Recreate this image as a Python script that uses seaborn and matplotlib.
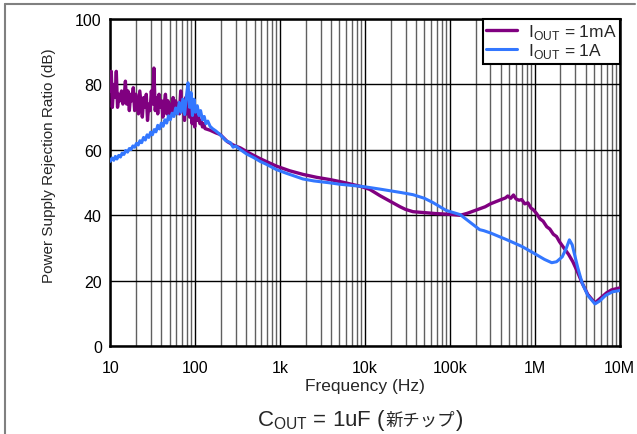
import numpy as np
import pandas as pd
import matplotlib
matplotlib.use("Agg")
import matplotlib.pyplot as plt
import seaborn as sns
from matplotlib.lines import Line2D
from matplotlib.ticker import FixedLocator, NullFormatter

# ----------------------
# Data
# ----------------------
freq_1ma = [10, 10.3, 10.6, 11, 11.4, 11.8, 12.2, 12.7, 13.1, 13.6, 14.1, 14.6,
            15.1, 15.6, 16.2, 16.8, 17.4, 18.0, 18.7, 19.4, 20.1, 20.8, 21.5,
            22.3, 23.1, 23.9, 24.8, 25.7, 26.6, 27.5, 28.5, 29.5, 30.5, 31.6,
            32.7, 33.9, 35.1, 36.3, 37.6, 38.9, 40.3, 41.7, 43.2, 44.7, 46.3,
            47.9, 49.6, 51.3, 53.1, 55.0, 56.9, 58.9, 61.0, 63.1, 65.3, 67.6,
            70.0, 72.4, 75.0, 77.6, 80.3, 83.1, 86.0, 89.1, 92.2, 95.4, 98.8,
            102, 106, 110, 114, 118, 122, 126, 131, 150, 175, 197, 240, 280,
            340, 450, 582, 750, 912, 1300, 1860, 2700, 3900, 5500, 7200, 9000,
            11400, 15000, 20000, 25900, 30000, 36700, 50000, 70000, 100000,
            132000, 160000, 190000, 224000, 260000, 300000, 350000, 400000,
            450000, 480000, 520000, 560000, 600000, 650000, 700000, 760000,
            830000, 900000, 960000, 1.05e6, 1.15e6, 1.25e6, 1.38e6, 1.5e6,
            1.65e6, 1.8e6, 1.95e6, 2.2e6, 2.5e6, 2.8e6, 3.2e6, 3.6e6, 4.2e6,
            5.1e6, 6.0e6, 7.0e6, 8.0e6, 9.0e6, 10e6]
psrr_1ma = [78, 84, 73, 80, 76, 84, 73, 77, 75, 78, 74, 76,
            81, 74, 78, 72, 77, 75, 79, 72, 77, 74, 71,
            78, 74, 70, 76, 73, 77, 69, 74, 72, 78, 74,
            85, 72, 76, 71, 77, 73, 75, 70, 74, 77, 71,
            75, 70, 74, 72, 76, 71, 75, 72, 74, 71, 78,
            72, 75, 69, 76, 71, 77, 70, 73, 68, 72, 67,
            71, 69, 70, 68, 69, 67, 68, 66.5, 66, 65.2, 64.7, 62.5, 61.5,
            60.6, 58.8, 57.3, 56, 55, 53.6, 52.5, 51.6, 50.9, 50.1, 49.4, 48.8,
            47.9, 46, 44.2, 42.6, 41.8, 41.1, 40.8, 40.5, 40.3,
            40, 40.6, 41.3, 42, 42.6, 43.5, 44.2, 44.8,
            45.3, 45.9, 45.2, 46.2, 45, 44.6, 44.8, 43.5,
            43.8, 42.2, 41.7, 40.5, 38.9, 38.2, 36.5, 35.8,
            34.2, 33.5, 31.9, 30, 28, 25.8, 22.5, 19.3, 15.8,
            13.2, 14.8, 16.3, 17.2, 17.5, 17.8]

freq_1a = [10, 10.5, 11, 11.5, 12, 12.6, 13.2, 13.8, 14.5, 15.2, 16, 16.8,
           17.6, 18.5, 19.4, 20.4, 21.4, 22.4, 23.5, 24.7, 25.9, 27.2, 28.5,
           29.9, 31.4, 33, 34.6, 36.3, 38.1, 40, 42, 44.1, 46.3, 48.6, 51,
           53.5, 56.2, 59, 62, 65, 68.2, 71.6, 75.2, 79, 82.5, 86, 89.5, 93,
           97, 101, 106, 111, 116, 122, 128, 134, 141, 150, 160, 175, 200,
           230, 260, 280, 300, 340, 400, 500, 580, 700, 900, 1200, 1860, 2500,
           3900, 5000, 7200, 10000, 15000, 25900, 36700, 50000, 63000, 90000,
           132000, 180000, 224000, 250000, 300000, 470000, 700000, 960000,
           1.3e6, 1.58e6, 1.8e6, 2.1e6, 2.35e6, 2.55e6, 2.75e6, 2.9e6, 3.2e6,
           3.6e6, 4.2e6, 5.1e6, 5.8e6, 6.8e6, 8.2e6, 10e6]
psrr_1a = [56.5, 57.5, 56.8, 58, 57.2, 58.3, 57.8, 59, 58.6, 59.8, 59.3, 60.4,
           60.1, 61.2, 60.8, 62, 61.5, 62.8, 62.2, 63.8, 63, 64.6, 63.8,
           65.4, 64.6, 66.2, 65.5, 67.5, 66.4, 68.2, 67.2, 69.2, 68.2, 70.4, 69.2,
           71.2, 70.2, 72.8, 71, 74.5, 71.5, 75.5, 70.8, 76.5, 80.5, 73, 77.5, 70.5,
           75.5, 71.5, 73.5, 70.5, 72, 69.2, 70.2, 68, 68.8, 67.2, 66.5, 65.8, 64.5,
           62.8, 62.2, 60.8, 61.2, 60.1, 58.8, 57.5, 56.5, 55.5, 54, 52.8, 51.1, 50.5,
           49.9, 49.5, 49.1, 48.7, 48, 47, 46.3, 45.2, 43.9, 41.5,
           40.2, 37.5, 35.6, 35.3, 34.6, 32.5, 30.5, 28.5,
           26.5, 25.5, 25.8, 27.3, 30, 32.5, 31, 28.5, 24,
           19.3, 15.5, 12.9, 13.8, 15.5, 16.6, 17]

x_ticks = [10, 100, 1e3, 1e4, 1e5, 1e6, 1e7]
x_tick_labels = ["10", "100", "1k", "10k", "100k", "1M", "10M"]
y_ticks = [0, 20, 40, 60, 80, 100]

purple = "#800080"
blue = "#3377FF"

# ----------------------
# Plot
# ----------------------
sns.set_style("white")
plt.rcParams["font.family"] = ["Liberation Sans", "Noto Sans CJK JP", "DejaVu Sans"]

fig = plt.figure(figsize=(6.37, 4.35), dpi=100)
ax = fig.add_axes([0.173, 0.202, 0.800, 0.752])

df_1ma = pd.DataFrame({"f": freq_1ma, "psrr": psrr_1ma})
df_1a = pd.DataFrame({"f": freq_1a, "psrr": psrr_1a})

sns.lineplot(data=df_1ma, x="f", y="psrr", ax=ax, color=purple, lw=2.4,
             sort=False, estimator=None, zorder=3,
             label=r"I$_{\mathregular{OUT}}$ = 1mA")
sns.lineplot(data=df_1a, x="f", y="psrr", ax=ax, color=blue, lw=2.2,
             sort=False, estimator=None, zorder=4,
             label=r"I$_{\mathregular{OUT}}$ = 1A")

ax.set_xscale("log")
ax.set_xlim(10, 1e7)
ax.set_ylim(0, 100)
ax.xaxis.set_major_locator(FixedLocator(x_ticks))
ax.set_xticklabels(x_tick_labels)
minors = [m * d for d in x_ticks[:-1] for m in range(2, 10)]
ax.xaxis.set_minor_locator(FixedLocator(minors))
ax.xaxis.set_minor_formatter(NullFormatter())
ax.set_yticks(y_ticks)

# grid: black decades, gray minors
ax.grid(which="major", color="black", lw=1.0)
ax.grid(which="minor", axis="x", color="#606060", lw=1.0)
ax.set_axisbelow(True)

ax.tick_params(which="both", length=0, labelsize=11.5, colors="black")
ax.tick_params(axis="x", pad=10)
ax.tick_params(axis="y", pad=6)
for s in ax.spines.values():
    s.set_color("black")
    s.set_linewidth(1.8)

ax.set_xlabel("Frequency (Hz)", fontsize=12.5, labelpad=2)
ax.set_ylabel("Power Supply Rejection Ratio (dB)", fontsize=11)
ax.yaxis.set_label_coords(-0.106, 0.555)

leg = ax.legend(loc="upper right", fontsize=12.5, frameon=True, fancybox=False,
                borderaxespad=0.0, handlelength=1.8, handletextpad=0.6,
                labelspacing=0.0, borderpad=0.2)
leg.get_frame().set_edgecolor("black")
leg.get_frame().set_linewidth(1.5)
leg.get_frame().set_alpha(1)

# caption: latin part, japanese part, closing bracket, laid side by side
cap_y = 0.021
t1 = fig.text(257 / 637, cap_y, r"C$_{\mathregular{OUT}}$ = 1uF (",
              ha="left", va="baseline", fontsize=16)
renderer = fig.canvas.get_renderer()
x1 = fig.transFigure.inverted().transform(
    (t1.get_window_extent(renderer).x1, 0))[0]
t2 = fig.text(x1, cap_y, "新チップ", ha="left", va="baseline",
              fontsize=12.5, family=["Noto Sans CJK JP"])
x2 = fig.transFigure.inverted().transform(
    (t2.get_window_extent(renderer).x1, 0))[0]
fig.text(x2, cap_y, ")", ha="left", va="baseline", fontsize=16)

# gray frame along the top and left of the picture
fig.add_artist(Line2D([0.008, 0.997], [0.989, 0.989], color="#808080", lw=1.5,
                      transform=fig.transFigure))
fig.add_artist(Line2D([0.008, 0.008], [0.0, 0.989], color="#808080", lw=1.5,
                      transform=fig.transFigure))

fig.savefig("out.png", dpi=100)
